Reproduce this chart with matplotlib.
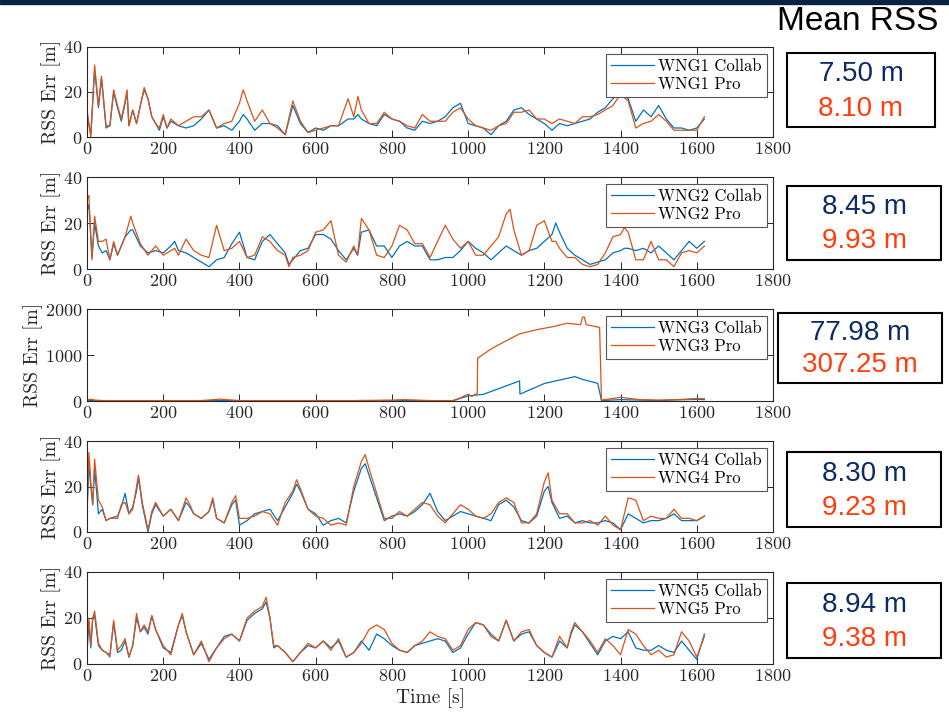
import matplotlib
matplotlib.use("Agg")
import matplotlib.pyplot as plt
from matplotlib.patches import Rectangle

plt.rcParams['font.family'] = ['cmr10', 'DejaVu Serif']
plt.rcParams['mathtext.fontset'] = 'cm'
plt.rcParams['axes.formatter.use_mathtext'] = True

# ---------------- data ----------------
x_ticks = [0, 200, 400, 600, 800, 1000, 1200, 1400, 1600, 1800]

t1 = [0,10,20,30,38,50,60,70,80,90,100,105,110,120,130,140,150,160,170,180,190,200,210,220,240,260,280,300,320,340,
      360,380,400,410,420,440,460,480,500,520,540,560,580,600,620,640,660,685,700,711,720,740,760,780,800,820,840,860,880,900,
      920,940,960,980,1000,1020,1040,1060,1080,1100,1120,1140,1160,1180,1200,1220,1240,1260,1280,1300,1320,1340,1360,1380,
      1400,1420,1440,1460,1480,1500,1520,1540,1560,1580,1600,1620]
collab1 = [10,1,30,13,26,4,5,20,13,7,15,20,5,12,6,14,21,17,9,6,3,9,4,7,5,4,5,8,12,4,
           5,3,7,10,8,3,6,6,5,1,14,6,2,4,3,5,5,8,8,10,8,6,5,10,8,7,4,3,7,6,
           7,9,13,15,6,5,4,1,5,7,12,13,10,8,6,3,6,5,6,7,8,11,13,17,
           20,17,7,12,9,14,8,4,4,3,4,8]
pro1 = [12,0,32,14,27,5,5,21,14,8,16,21,5,12,6,14,22,17,9,6,4,10,4,8,5,7,9,9,12,4,
        6,7,15,21,16,7,12,6,4,1,16,7,2,3,4,5,5,17,9,18,12,6,6,11,8,7,5,4,10,7,
        7,7,11,13,8,5,4,3,5,6,11,11,12,8,8,6,8,7,6,9,9,10,12,14,
        19,16,4,6,7,10,7,3,3,3,3,9]

t2 = [0,5,13,20,30,40,50,60,70,80,100,115,120,140,160,180,200,220,230,240,260,280,300,320,340,360,380,400,420,440,
      460,480,500,520,530,540,560,580,600,620,640,660,680,700,710,720,740,760,780,800,820,840,860,880,900,
      920,940,960,980,1000,1020,1040,1060,1080,1100,1110,1120,1140,1160,1180,1200,1220,1230,1240,1260,1280,1300,1320,1340,
      1360,1380,1400,1410,1420,1440,1460,1480,1500,1520,1540,1560,1580,1600,1620]
collab2 = [25,28,5,20,10,7,8,4,11,6,14,17,17,10,7,8,7,10,12,8,7,5,3,1,4,5,11,16,5,4,
           12,15,11,7,2,4,8,9,15,15,13,8,4,9,6,16,17,10,10,5,10,12,10,10,4,
           4,5,5,8,12,9,7,4,7,10,9,8,6,8,9,12,15,20,16,9,6,4,2,3,
           4,7,8,9,9,8,9,7,10,7,4,8,12,9,12]
pro2 = [30,32,4,23,12,12,13,4,12,6,14,23,20,11,6,10,6,8,9,6,13,8,6,5,19,8,9,12,5,6,
        14,12,8,6,1,5,6,8,16,17,21,6,3,10,6,22,17,6,5,10,19,17,11,11,5,
        12,19,13,9,12,6,6,10,14,24,26,17,6,8,19,21,12,12,9,5,5,2,1,2,
        7,14,15,18,16,4,4,12,4,4,1,7,8,7,10]

t3_collab = [0,20,40,100,200,300,350,400,500,600,700,800,850,900,960,1000,1040,1135,1136,1200,1280,1300,1340,1350,
             1400,1450,1500,1550,1600,1620]
collab3 = [15,10,5,5,5,5,10,5,5,5,5,5,10,5,5,110,145,436,150,380,530,470,385,10,
           30,20,10,25,35,30]
t3_pro = [0,10,20,40,100,200,300,350,400,500,600,700,800,830,900,960,980,1000,1010,1024,1025,1060,1100,1135,1180,
          1225,1260,1295,1300,1305,1310,1345,1350,1400,1450,1500,1550,1600,1620]
pro3 = [20,40,20,10,10,10,10,40,10,10,10,10,20,30,10,10,70,150,100,170,930,1130,1310,1460,1550,
        1620,1690,1660,1820,1825,1660,1600,20,80,30,20,30,55,50]

t4 = [0,5,10,15,20,30,40,50,60,80,90,100,110,120,130,135,145,160,170,180,200,220,240,260,270,280,300,320,330,340,
      360,380,390,400,420,440,460,480,500,520,540,550,560,580,600,620,640,660,680,700,720,730,740,760,780,800,820,840,860,880,900,
      920,940,960,980,1000,1020,1040,1060,1080,1100,1120,1140,1160,1180,1200,1210,1220,1240,1260,1280,1300,1320,1340,
      1360,1380,1400,1420,1440,1460,1480,1500,1520,1540,1560,1580,1600,1620]
collab4 = [8,30,20,12,28,8,10,5,6,7,11,17,8,11,18,24,12,0,8,12,7,10,5,13,11,8,6,9,14,6,
           4,12,14,3,5,8,9,10,5,11,17,21,18,10,8,3,5,6,4,18,28,30,25,15,5,7,8,7,9,12,17,
           9,5,7,9,8,7,6,5,12,14,11,5,4,7,18,20,13,6,7,4,5,4,4,
           5,4,1,8,6,4,5,5,6,8,5,5,5,7]
pro4 = [10,35,22,12,32,14,11,5,6,6,12,13,8,10,20,25,13,1,9,13,7,10,5,15,12,8,6,9,15,6,
        4,13,16,6,6,7,9,8,3,13,18,23,19,10,7,6,3,4,3,20,31,34,28,17,6,6,9,7,10,13,12,
        7,4,8,12,10,7,6,8,13,15,13,4,4,8,22,26,14,8,8,4,4,5,3,
        7,3,1,15,14,5,7,6,6,10,6,6,5,7]

t5 = [0,5,10,15,20,30,40,50,60,70,80,90,100,110,120,130,140,150,160,170,180,200,220,240,250,260,280,300,320,340,
      360,380,400,420,440,460,470,480,490,500,520,540,560,580,600,620,640,660,680,700,720,740,760,780,800,820,840,860,880,900,
      920,940,960,980,1000,1020,1040,1060,1080,1100,1120,1140,1160,1180,1200,1220,1240,1260,1270,1280,1300,1320,1340,
      1360,1380,1400,1420,1440,1460,1480,1500,1520,1540,1560,1580,1600,1620]
collab5 = [5,18,7,20,21,8,6,5,4,18,5,6,10,3,8,20,14,16,13,21,15,7,5,17,21,14,4,9,2,7,
           12,13,10,19,22,24,27,20,7,8,5,1,5,8,7,10,7,10,3,5,10,6,13,11,8,6,5,8,9,10,
           11,10,5,7,13,18,17,13,10,19,10,13,14,8,5,3,10,7,13,17,14,9,4,
           10,12,11,14,7,6,6,8,6,5,10,6,2,13]
pro5 = [10,20,8,20,23,9,6,5,3,19,6,8,11,3,8,22,14,17,14,21,15,8,4,17,22,14,4,10,1,7,
        11,13,10,20,23,25,29,20,8,8,5,1,5,9,7,10,6,11,3,5,9,15,17,15,9,6,5,8,10,14,
        12,11,6,8,15,18,17,12,10,19,10,14,15,8,5,3,12,7,14,18,14,10,5,
        11,8,4,15,13,8,4,6,3,4,14,10,3,12]

labels = ["WNG1", "WNG2", "WNG3", "WNG4", "WNG5"]
mean_collab = ["7.50 m", "8.45 m", "77.98 m", "8.30 m", "8.94 m"]
mean_pro = ["8.10 m", "9.93 m", "307.25 m", "9.23 m", "9.38 m"]

series = [
    (t1, collab1, t1, pro1),
    (t2, collab2, t2, pro2),
    (t3_collab, collab3, t3_pro, pro3),
    (t4, collab4, t4, pro4),
    (t5, collab5, t5, pro5),
]
for tc, c, tp, p in series:
    assert len(tc) == len(c) and len(tp) == len(p), (len(tc), len(c), len(tp), len(p))

# ---------------- layout ----------------
W, H = 949, 712
fig = plt.figure(figsize=(W / 100, H / 100), dpi=100)

# axes pixel boxes (left, top, right, bottom)
ax_px = [(87, 47, 773, 137), (87, 177, 773, 269), (87, 309, 773, 401),
         (87, 441, 773, 532), (87, 572, 773, 664)]
box_px = [(787, 53, 935, 127), (787, 186, 941, 260), (778, 313, 942, 383),
          (787, 452, 941, 527), (787, 583, 941, 658)]

BLUE = '#0072BD'
ORANGE = '#D95319'
AXC = '#262626'
NAVY = '#0b2a66'
RED = '#ff3d0d'

# top navy bar
fig.add_artist(Rectangle((0, 1 - 4 / H), 1, 4 / H, transform=fig.transFigure,
                         color='#0a2342', zorder=10))

fig.text(858 / W, 1 - 22 / H, "Mean RSS", family='Liberation Sans', fontsize=24,
         ha='center', va='center', color='black')

for i, ((l, tp_, r, b), (tc, c, tpp, p)) in enumerate(zip(ax_px, series)):
    ax = fig.add_axes([l / W, 1 - b / H, (r - l) / W, (b - tp_) / H])
    ax.plot(tc, c, color=BLUE, lw=0.9, label=f"{labels[i]} Collab")
    ax.plot(tpp, p, color=ORANGE, lw=0.9, label=f"{labels[i]} Pro")
    ax.set_xlim(0, 1800)
    ax.set_xticks(x_ticks)
    if i == 2:
        ax.set_ylim(0, 2000)
        ax.set_yticks([0, 1000, 2000])
    else:
        ax.set_ylim(0, 40)
        ax.set_yticks([0, 20, 40])
    ax.tick_params(direction='in', top=True, right=True, length=5, width=0.7,
                   labelsize=13, colors=AXC, pad=3)
    for s in ax.spines.values():
        s.set_color(AXC)
        s.set_linewidth(0.8)
    ax.set_ylabel("RSS Err [m]", fontsize=14, color=AXC, labelpad=2)
    if i == 4:
        ax.set_xlabel("Time [s]", fontsize=14, color=AXC, labelpad=3)
    axw, axh = r - l, b - tp_
    leg = ax.legend(loc='upper right', bbox_to_anchor=(1 - 6 / axw, 1 - 7 / axh),
                    borderaxespad=0, fontsize=12, frameon=True, fancybox=False,
                    framealpha=1, edgecolor='#555555', handlelength=2.6,
                    handletextpad=0.25, labelspacing=0.15, borderpad=0.3)
    leg.get_frame().set_linewidth(0.8)

    bl, bt, br, bb = box_px[i]
    fig.add_artist(Rectangle((bl / W, 1 - bb / H), (br - bl) / W, (bb - bt) / H,
                             transform=fig.transFigure, fill=False, edgecolor='black', lw=1.5))
    cx = (bl + br) / 2 / W
    fig.text(cx, 1 - (bt + (bb - bt) * 0.29) / H, mean_collab[i], family='Liberation Sans',
             fontsize=20, color=NAVY, ha='center', va='center')
    fig.text(cx, 1 - (bt + (bb - bt) * 0.75) / H, mean_pro[i], family='Liberation Sans',
             fontsize=20, color=RED, ha='center', va='center')

fig.savefig("out.png", dpi=100)
